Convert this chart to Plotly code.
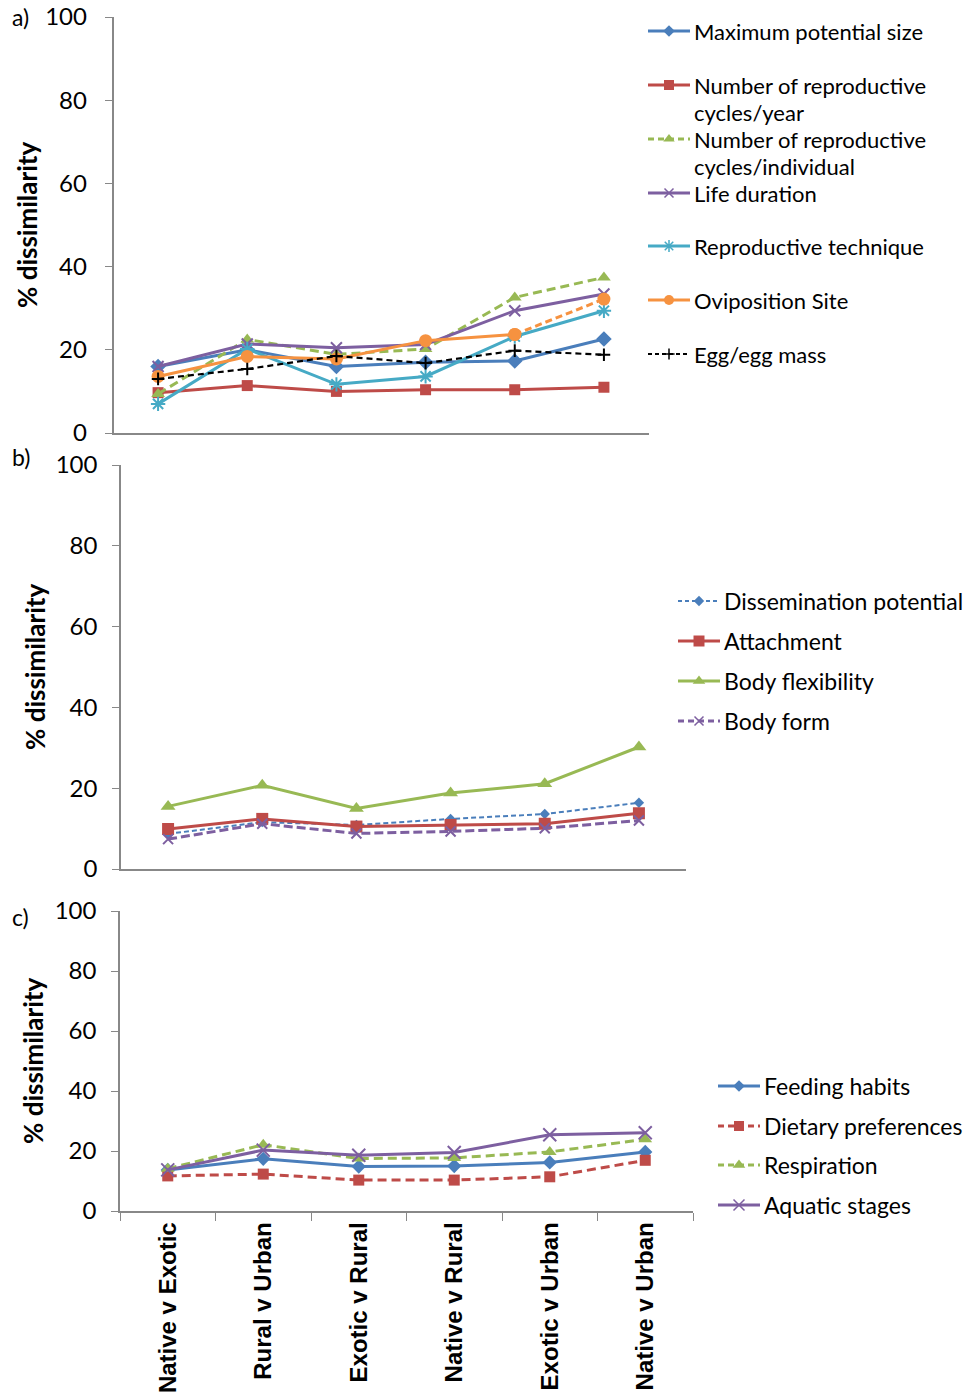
import plotly.graph_objects as go

W, H = 973, 1400

# ---------------- data ----------------
comparisons = ["Native v Exotic", "Rural v Urban", "Exotic v Rural",
               "Native v Rural", "Exotic v Urban", "Native v Urban"]

# a) life-history traits
max_potential_size = [16.0, 20.0, 16.0, 17.0, 17.3, 22.6]
repro_cycles_year = [9.7, 11.4, 10.0, 10.4, 10.4, 11.0]
repro_cycles_indiv = [9.4, 22.5, 18.9, 20.2, 32.6, 37.4]
life_duration = [16.0, 21.4, 20.5, 21.3, 29.4, 33.4]
repro_technique = [7.0, 20.2, 11.7, 13.6, 23.2, 29.4]
oviposition_site = [13.6, 18.4, 17.8, 22.2, 23.7, 32.2]
egg_mass = [13.0, 15.4, 18.5, 16.8, 19.8, 18.8]

# b) morphological / dispersal traits
dissemination = [8.7, 11.6, 10.9, 12.4, 13.6, 16.4]
attachment = [9.9, 12.4, 10.5, 10.9, 11.2, 13.8]
body_flexibility = [15.5, 20.7, 15.0, 18.8, 21.1, 30.2]
body_form = [7.4, 11.2, 8.8, 9.3, 10.1, 12.0]

# c) ecological traits
feeding_habits = [13.7, 17.4, 14.8, 15.0, 16.2, 19.7]
dietary_prefs = [11.7, 12.3, 10.3, 10.3, 11.4, 16.9]
respiration = [14.1, 22.1, 17.5, 17.7, 19.7, 23.9]
aquatic_stages = [13.7, 20.3, 18.6, 19.5, 25.4, 26.1]

y_ticks = [0, 20, 40, 60, 80, 100]

# ---------------- styling ----------------
BLUE = "#4A7EBB"
RED = "#BE4B48"
GREEN = "#98B954"
PURPLE = "#7D5FA0"
TEAL = "#46AAC5"
ORANGE = "#F69240"
BLACK = "#000000"
AXIS = "#888888"
FONT = "Lato"
LABEL_FONT = "Liberation Sans, Arial"

fig = go.Figure()


def px_x(v):
    return v / W


def px_y(v):
    return 1 - v / H


# panel geometry in page pixels: (left, right, top, bottom)
panels = {
    "": (113.5, 648.5, 17, 433),
    "2": (121, 686, 465, 869),
    "3": (120, 693, 911, 1211),
}


def add_series(panel, y, name, color, symbol, size, dash="solid", width=3,
               mline=None, cats=None):
    cats = comparisons if cats is None else cats
    fig.add_trace(go.Scatter(
        x=cats, y=y, name=name, mode="lines+markers",
        xaxis="x" + panel, yaxis="y" + panel, showlegend=False,
        line=dict(color=color, width=width, dash=dash),
        marker=dict(symbol=symbol, size=size, color=color,
                    line=dict(color=color, width=mline if mline else 0)),
        cliponaxis=False,
    ))


# panel a
add_series("", max_potential_size, "Maximum potential size", BLUE, "diamond", 12)
add_series("", repro_cycles_year, "Number of reproductive cycles/year", RED, "square", 11)
add_series("", repro_cycles_indiv, "Number of reproductive cycles/individual", GREEN,
           "triangle-up", 12, dash="9px,5px")
add_series("", life_duration, "Life duration", PURPLE, "x-thin", 11, mline=2)
add_series("", repro_technique, "Reproductive technique", TEAL, "asterisk", 12, mline=2)
# oviposition: solid up to the fifth comparison, dashed for the last step
add_series("", oviposition_site[:5], "Oviposition Site", ORANGE, "circle", 13,
           cats=comparisons[:5])
add_series("", oviposition_site[4:], "Oviposition Site", ORANGE, "circle", 13,
           dash="7px,4px", cats=comparisons[4:])
add_series("", egg_mass, "Egg/egg mass", BLACK, "cross-thin", 9, dash="6px,4px",
           width=2.2, mline=2)

# panel b
add_series("2", dissemination, "Dissemination potential", BLUE, "diamond", 8,
           dash="5px,3px", width=2)
add_series("2", attachment, "Attachment", RED, "square", 12)
add_series("2", body_flexibility, "Body flexibility", GREEN, "triangle-up", 13)
add_series("2", body_form, "Body form", PURPLE, "x-thin", 10, dash="9px,4px", mline=2)

# panel c
add_series("3", feeding_habits, "Feeding habits", BLUE, "diamond", 11)
add_series("3", dietary_prefs, "Dietary preferences", RED, "square", 11, dash="9px,5px")
add_series("3", respiration, "Respiration", GREEN, "triangle-up", 12, dash="9px,5px")
add_series("3", aquatic_stages, "Aquatic stages", PURPLE, "x-thin", 13, mline=2)

layout = dict(
    width=W, height=H, margin=dict(l=0, r=0, t=0, b=0, autoexpand=False),
    paper_bgcolor="white", plot_bgcolor="rgba(0,0,0,0)",
    font=dict(family=FONT, color="black", size=23),
    showlegend=False,
)

for key, (l, r, t, b) in panels.items():
    is_c = key == "3"
    layout["xaxis" + key] = dict(
        domain=[px_x(l), px_x(r)], anchor="y" + key, type="category",
        categoryorder="array", categoryarray=comparisons, automargin=False,
        range=[-0.5, 5.5], showline=True, linecolor=AXIS, linewidth=1.5,
        showgrid=False, zeroline=False,
        ticks="outside" if is_c else "", ticklen=8, tickcolor=AXIS,
        tickson="boundaries",
        showticklabels=is_c, tickangle=-90,
        tickfont=dict(family=LABEL_FONT, size=24, color="black", weight="bold"),
    )
    layout["yaxis" + key] = dict(
        domain=[px_y(b), px_y(t)], anchor="x" + key, range=[0, 100],
        tickvals=y_ticks, showline=True, linecolor=AXIS, linewidth=1.5,
        showgrid=False, zeroline=False, ticks="outside", ticklen=7,
        automargin=False,
        tickcolor=AXIS, ticklabelstandoff=13 if key == "" else 10,
        tickfont=dict(family=FONT, size=24, color="black"),
    )

# overlay axis in page pixels used for the legend keys
layout["xaxis4"] = dict(domain=[0, 1], range=[0, W], visible=False, anchor="y4",
                        automargin=False)
layout["yaxis4"] = dict(domain=[0, 1], range=[H, 0], visible=False, anchor="x4",
                        automargin=False)

fig.update_layout(**layout)

annotations = []
shapes = []

# panel letters and axis titles
for letter, yy in (("a)", 17), ("b)", 457), ("c)", 917)):
    annotations.append(dict(text=letter, x=px_x(10), y=px_y(yy), xref="paper",
                            yref="paper", xanchor="left", yanchor="middle",
                            showarrow=False, font=dict(family=FONT, size=23)))
for xx, yy in ((27, 225), (35, 667), (33, 1061)):
    annotations.append(dict(text="<b>% dissimilarity</b>", x=px_x(xx), y=px_y(yy),
                            xref="paper", yref="paper", textangle=-90,
                            xanchor="center", yanchor="middle", showarrow=False,
                            font=dict(family=FONT, size=26)))

# legend keys: (x start, x end, text size, wrapped-line step, entries)
legends = [
    (648, 690, 22, 27, [
        (31, ["Maximum potential size"], BLUE, "diamond", 9, "solid", 3, 0),
        (85, ["Number of reproductive", "cycles/year"], RED, "square", 10, "solid", 3, 0),
        (139, ["Number of reproductive", "cycles/individual"], GREEN, "triangle-up", 10,
         "6px,4px", 3, 0),
        (193, ["Life duration"], PURPLE, "x-thin", 9, "solid", 3, 1.5),
        (246, ["Reproductive technique"], TEAL, "asterisk", 10, "solid", 3, 1.5),
        (300, ["Oviposition Site"], ORANGE, "circle", 10, "solid", 3, 0),
        (354, ["Egg/egg mass"], BLACK, "cross-thin", 8, "4px,3px", 2.2, 1.5),
    ]),
    (678, 720, 23, 0, [
        (601, ["Dissemination potential"], BLUE, "diamond", 8, "4px,3px", 2, 0),
        (641, ["Attachment"], RED, "square", 11, "solid", 3, 0),
        (681, ["Body flexibility"], GREEN, "triangle-up", 11, "solid", 3, 0),
        (721, ["Body form"], PURPLE, "x-thin", 9, "6px,4px", 3, 1.5),
    ]),
    (718, 760, 23, 0, [
        (1086, ["Feeding habits"], BLUE, "diamond", 9, "solid", 3, 0),
        (1126, ["Dietary preferences"], RED, "square", 10, "6px,4px", 3, 0),
        (1165, ["Respiration"], GREEN, "triangle-up", 11, "6px,4px", 3, 0),
        (1205, ["Aquatic stages"], PURPLE, "x-thin", 11, "solid", 3, 1.5),
    ]),
]

for x0, x1, fsize, step, entries in legends:
    for yy, lines, color, symbol, size, dash, width, mline in entries:
        shapes.append(dict(type="line", xref="x4", yref="y4", x0=x0, x1=x1,
                           y0=yy, y1=yy, line=dict(color=color, width=width, dash=dash)))
        fig.add_trace(go.Scatter(
            x=[(x0 + x1) / 2], y=[yy], xaxis="x4", yaxis="y4", mode="markers",
            showlegend=False, hoverinfo="skip",
            marker=dict(symbol=symbol, size=size, color=color,
                        line=dict(color=color, width=mline)),
        ))
        for i, txt in enumerate(lines):
            annotations.append(dict(text=txt, x=x1 + 2, y=yy + step * i, xref="x4",
                                    yref="y4", xanchor="left", yanchor="middle",
                                    showarrow=False, font=dict(family=FONT, size=fsize)))

fig.update_layout(annotations=annotations, shapes=shapes)

fig.write_html("out.html")
